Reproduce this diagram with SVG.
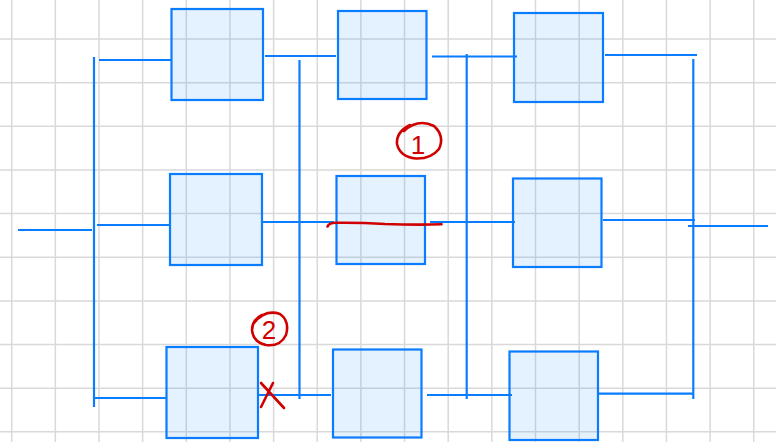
<svg xmlns="http://www.w3.org/2000/svg" width="776" height="442" viewBox="0 0 776 442">
<style>
.grid line{stroke:#d9d9d9;stroke-width:1.5}
.box{fill:#0a7cff;fill-opacity:0.11;stroke:#0a7cff;stroke-width:2.2}
.wire{stroke:#0a7cff;stroke-width:2.2;fill:none}
.red{stroke:#d00000;stroke-width:2.6;fill:none;stroke-linecap:round;stroke-linejoin:round}
.num{fill:#d00000;font-family:"Liberation Sans",Arial,sans-serif;font-size:26px;text-anchor:middle}
</style>
<rect width="776" height="442" fill="#ffffff"/>
<g class="grid">
<line x1="11.7" y1="0" x2="11.7" y2="442"/><line x1="55.35" y1="0" x2="55.35" y2="442"/><line x1="99" y1="0" x2="99" y2="442"/><line x1="142.65" y1="0" x2="142.65" y2="442"/><line x1="186.3" y1="0" x2="186.3" y2="442"/><line x1="229.95" y1="0" x2="229.95" y2="442"/><line x1="273.6" y1="0" x2="273.6" y2="442"/><line x1="317.25" y1="0" x2="317.25" y2="442"/><line x1="360.9" y1="0" x2="360.9" y2="442"/><line x1="404.55" y1="0" x2="404.55" y2="442"/><line x1="448.2" y1="0" x2="448.2" y2="442"/><line x1="491.85" y1="0" x2="491.85" y2="442"/><line x1="535.5" y1="0" x2="535.5" y2="442"/><line x1="579.15" y1="0" x2="579.15" y2="442"/><line x1="622.8" y1="0" x2="622.8" y2="442"/><line x1="666.45" y1="0" x2="666.45" y2="442"/><line x1="710.1" y1="0" x2="710.1" y2="442"/><line x1="753.75" y1="0" x2="753.75" y2="442"/>
<line x1="0" y1="39" x2="776" y2="39"/><line x1="0" y1="82.65" x2="776" y2="82.65"/><line x1="0" y1="126.3" x2="776" y2="126.3"/><line x1="0" y1="169.95" x2="776" y2="169.95"/><line x1="0" y1="213.6" x2="776" y2="213.6"/><line x1="0" y1="257.25" x2="776" y2="257.25"/><line x1="0" y1="300.9" x2="776" y2="300.9"/><line x1="0" y1="344.55" x2="776" y2="344.55"/><line x1="0" y1="388.2" x2="776" y2="388.2"/><line x1="0" y1="431.85" x2="776" y2="431.85"/>
</g>
<g id="connectors" class="wire">
<line x1="18" y1="230" x2="92" y2="230"/>
<line x1="94" y1="57" x2="94" y2="407"/>
<line x1="99" y1="60" x2="171" y2="60"/>
<line x1="97" y1="225" x2="170" y2="225"/>
<line x1="94" y1="398" x2="166" y2="398"/>
<line x1="265" y1="56" x2="336" y2="56"/>
<line x1="263" y1="222" x2="334" y2="222"/>
<line x1="259" y1="395" x2="331" y2="395"/>
<line x1="299.5" y1="60" x2="299.5" y2="399"/>
<line x1="432" y1="56.5" x2="517" y2="56.5"/>
<line x1="430" y1="222" x2="515" y2="222"/>
<line x1="427" y1="395" x2="512" y2="395"/>
<line x1="466.7" y1="54" x2="466.7" y2="399"/>
<line x1="605" y1="55" x2="697" y2="55"/>
<line x1="603" y1="220" x2="695" y2="220"/>
<line x1="598" y1="393.7" x2="693" y2="393.7"/>
<line x1="693.3" y1="59" x2="693.3" y2="399"/>
<line x1="688" y1="226" x2="768" y2="226"/>
</g>
<g id="n1"><rect class="box" x="171.5" y="9" width="91.5" height="91"/></g>
<g id="n2"><rect class="box" x="338" y="11" width="88.5" height="88"/></g>
<g id="n3"><rect class="box" x="514" y="13" width="89" height="89"/></g>
<g id="n4"><rect class="box" x="170" y="174" width="92" height="91"/></g>
<g id="n5"><rect class="box" x="336.5" y="176" width="88.5" height="88"/></g>
<g id="n6"><rect class="box" x="513" y="178.5" width="88.5" height="88.5"/></g>
<g id="n7"><rect class="box" x="166.5" y="347" width="91.5" height="91"/></g>
<g id="n8"><rect class="box" x="333" y="349.5" width="88.5" height="88"/></g>
<g id="n9"><rect class="box" x="509.5" y="351.5" width="88.5" height="88.5"/></g>
<g id="annotations">
<path class="red" d="M327.5,226.5 Q329,223 336,222.8 Q360,222.5 385,224 Q415,225 441.5,224.3"/>
<path class="red" d="M404,131 Q418,118 434,126 Q445,136 439,149 Q431,159 416,158.5 Q400,157 397,144 Q396,132 410,125"/>
<text class="num" x="418" y="154">1</text>
<path class="red" d="M254,323 Q265,309 280,314 Q290,321 286,335 Q280,347 266,345 Q253,342 252,330 Q252,320 262,315"/>
<text class="num" x="269" y="339">2</text>
<path class="red" d="M261,383 L284,408 M273,383 L261,407"/>
</g>
</svg>
